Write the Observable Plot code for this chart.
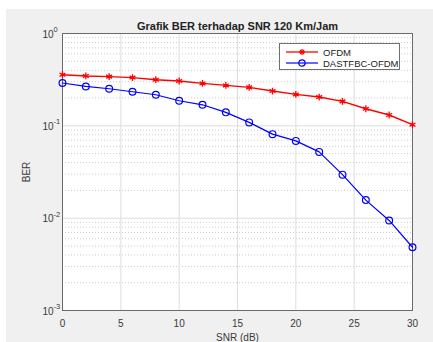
<!DOCTYPE html>
<html><head><meta charset="utf-8">
<script src="https://cdn.jsdelivr.net/npm/d3@7"></script>
<script src="https://cdn.jsdelivr.net/npm/@observablehq/plot@0.6"></script>
<style>
body{margin:0;background:#fff;font-family:"Liberation Sans",Arial,sans-serif;}
#wrap{position:relative;width:433px;height:342px;overflow:hidden;}
#bg{position:absolute;left:6px;top:9px;width:427px;height:333px;background:#f0f0f0;}
#chart{position:absolute;left:0;top:0;}
#legend{position:absolute;left:279px;top:43px;width:119px;height:25px;background:#fff;border:1px solid #707070;font-size:9.5px;color:#222;}
.row{position:absolute;left:5px;height:12px;display:flex;align-items:center;}
.row svg{margin-right:4px;}
</style></head>
<body><div id="wrap"><div id="bg"></div><div id="chart"></div>
<div id="legend">
<div class="row" style="top:2px"><svg width="34" height="10"><line x1="1" y1="5" x2="33" y2="5" stroke="red" stroke-width="1.3"/><g stroke="red" stroke-width="1.2"><line x1="14" y1="5" x2="20" y2="5"/><line x1="17" y1="2" x2="17" y2="8"/><line x1="15" y1="3" x2="19" y2="7"/><line x1="19" y1="3" x2="15" y2="7"/></g></svg>OFDM</div>
<div class="row" style="top:13px"><svg width="34" height="10"><line x1="1" y1="5" x2="33" y2="5" stroke="blue" stroke-width="1.2"/><circle cx="17" cy="5" r="3.2" fill="none" stroke="blue" stroke-width="1.2"/></svg>DASTFBC-OFDM</div>
</div></div>
<script>
const snr = [0,2,4,6,8,10,12,14,16,18,20,22,24,26,28,30];
const berOFDM = [0.358,0.347,0.341,0.333,0.316,0.306,0.288,0.274,0.261,0.238,0.219,0.205,0.184,0.153,0.131,0.103];
const berDAST = [0.291,0.267,0.252,0.234,0.217,0.187,0.169,0.140,0.109,0.0813,0.0687,0.0522,0.0296,0.0157,0.00944,0.00484];
const xTicks = [0,5,10,15,20,25,30];
const yTicks = [1e-3,1e-2,1e-1,1];
const yTickExp = ["-3","-2","-1","0"];
const title = "Grafik BER terhadap SNR 120 Km/Jam";

const minor = [];
for (const d of [1e-3,1e-2,1e-1]) for (let k=2;k<=9;k++) minor.push(k*d);
const ofdm = snr.map((s,i)=>({snr:s, ber:berOFDM[i]}));
const dast = snr.map((s,i)=>({snr:s, ber:berDAST[i]}));
const yLab = yTicks.map((v,i)=>({v, e:yTickExp[i]}));

const plot = Plot.plot({
  width:433, height:342,
  marginLeft:62, marginRight:21, marginTop:33, marginBottom:32,
  style:{background:"transparent", fontFamily:"'Liberation Sans', Arial, sans-serif", fontSize:"10px", color:"#3a3a3a"},
  x:{domain:[0,30]},
  y:{type:"log", domain:[1e-3,1]},
  marks:[
    Plot.frame({fill:"white"}),
    Plot.gridY(minor, {stroke:"#cccccc", strokeOpacity:1, strokeDasharray:"1,2"}),
    Plot.gridY(yTicks, {stroke:"#dedede", strokeOpacity:1}),
    Plot.gridX(xTicks, {stroke:"#dedede", strokeOpacity:1}),
    Plot.axisX(xTicks, {tickSize:0, tickPadding:9, label:"SNR (dB)", labelAnchor:"center", labelOffset:30, labelArrow:"none", fontSize:10}),
    Plot.axisY(yTicks, {tickSize:0, tickFormat:()=>"", label:"BER", labelAnchor:"center", labelOffset:40, labelArrow:"none", fontSize:10}),
    Plot.text(yLab, {x:()=>0, y:"v", text:()=>"10", textAnchor:"end", dx:-9, dy:1, fontSize:10, fill:"#3a3a3a", clip:false}),
    Plot.text(yLab, {x:()=>0, y:"v", text:"e", textAnchor:"start", dx:-9, dy:-4, fontSize:7.5, fill:"#3a3a3a", clip:false}),
    Plot.frame({stroke:"#6a6a6a"}),
    Plot.line(ofdm, {x:"snr", y:"ber", stroke:"red", strokeWidth:1.4}),
    Plot.dot(ofdm, {x:"snr", y:"ber", symbol:"asterisk", stroke:"red", r:3.2, strokeWidth:1.3}),
    Plot.line(dast, {x:"snr", y:"ber", stroke:"blue", strokeWidth:1.2}),
    Plot.dot(dast, {x:"snr", y:"ber", symbol:"circle", stroke:"blue", fill:"none", r:3.4, strokeWidth:1.2}),
    Plot.text([title], {frameAnchor:"top", dy:-11, fontWeight:"bold", fontSize:11, fill:"#222"})
  ]
});
document.getElementById("chart").appendChild(plot);
</script></body></html>
